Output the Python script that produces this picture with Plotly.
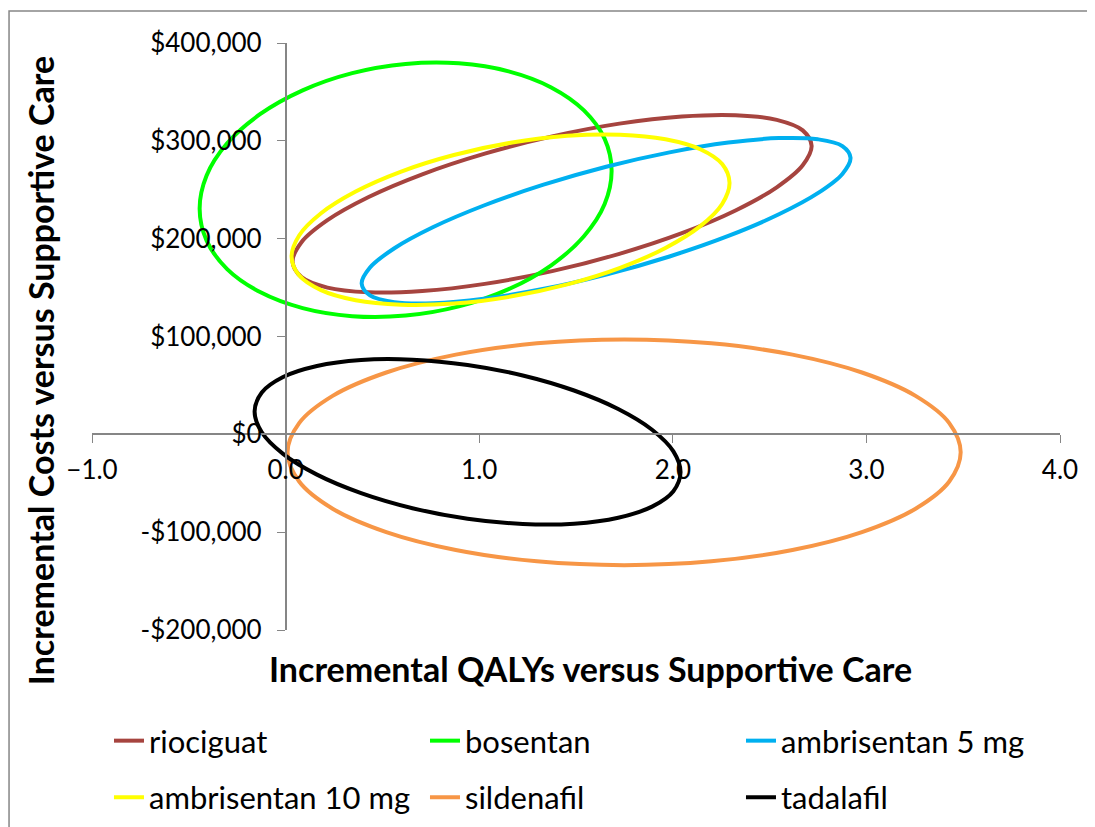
import plotly.graph_objects as go

# ellipse outlines: incremental QALYs (x) and incremental costs (y)
riociguat_x = [2.717, 2.671, 2.537, 2.324, 2.047, 1.724, 1.377, 1.029, 0.706, 0.429, 0.216, 0.082,
               0.036, 0.082, 0.216, 0.429, 0.706, 1.029, 1.377, 1.724, 2.047, 2.324, 2.537, 2.671]
riociguat_y = [294900, 310700, 321400, 326200, 324900, 317600, 304600, 286900, 265800, 242600,
               218900, 196400, 176500, 160700, 150000, 145200, 146500, 153800, 166800, 184500,
               205600, 228800, 252500, 275000]

bosentan_x = [1.684, 1.648, 1.541, 1.372, 1.152, 0.895, 0.620, 0.344, 0.088, -0.132, -0.302, -0.408,
              -0.444, -0.408, -0.302, -0.132, 0.088, 0.344, 0.620, 0.895, 1.152, 1.372, 1.541, 1.648]
bosentan_y = [269400, 302000, 331100, 354600, 371000, 379200, 378600, 369200, 351600, 327200,
              297500, 264600, 230600, 198000, 168900, 145400, 129000, 120800, 121400, 130800,
              148400, 172800, 202500, 235400]

ambri5_x = [2.918, 2.876, 2.749, 2.548, 2.287, 1.983, 1.656, 1.328, 1.024, 0.763, 0.562, 0.436,
            0.393, 0.436, 0.562, 0.763, 1.024, 1.328, 1.656, 1.983, 2.287, 2.548, 2.749, 2.876]
ambri5_y = [282700, 294700, 301600, 302800, 298200, 288200, 273500, 254900, 233900, 211900,
            190200, 170500, 154100, 142000, 135100, 134000, 138500, 148500, 163300, 181800,
            202800, 224900, 246500, 266200]

ambri10_x = [2.293, 2.255, 2.142, 1.962, 1.728, 1.455, 1.162, 0.869, 0.597, 0.362, 0.183, 0.070,
             0.031, 0.070, 0.183, 0.362, 0.597, 0.869, 1.162, 1.455, 1.728, 1.962, 2.142, 2.255]
ambri10_y = [257100, 276200, 291400, 301600, 306300, 305100, 298000, 285500, 268600, 248200,
             226000, 203300, 181600, 162600, 147400, 137100, 132500, 133700, 140800, 153300,
             170200, 190500, 212800, 235500]

sildenafil_x = [3.487, 3.428, 3.254, 2.977, 2.618, 2.199, 1.749, 1.298, 0.879, 0.520, 0.243, 0.070,
                0.010, 0.070, 0.243, 0.520, 0.879, 1.298, 1.749, 2.199, 2.618, 2.977, 3.254, 3.428]
sildenafil_y = [-18400, 11500, 39300, 63200, 81500, 93000, 96900, 93000, 81500, 63200, 39300, 11500,
                -18400, -48200, -76000, -99900, -118200, -129800, -133700, -129800, -118200,
                -99900, -76000, -48200]

tadalafil_x = [2.040, 2.003, 1.893, 1.718, 1.490, 1.225, 0.940, 0.655, 0.390, 0.162, -0.013, -0.123,
               -0.160, -0.123, -0.013, 0.162, 0.390, 0.655, 0.940, 1.225, 1.490, 1.718, 1.893, 2.003]
tadalafil_y = [-38800, -17400, 4700, 25900, 44800, 60200, 70900, 76300, 76000, 69900, 58600, 42800,
               23500, 2100, -20000, -41200, -60100, -75500, -86200, -91600, -91300, -85200,
               -73900, -58100]

names = ['riociguat', 'bosentan', 'ambrisentan 5 mg', 'ambrisentan 10 mg', 'sildenafil', 'tadalafil']
colors = ['#A6443F', '#00FF00', '#00B0F0', '#FFFF00', '#F79646', '#000000']
xs = [riociguat_x, bosentan_x, ambri5_x, ambri10_x, sildenafil_x, tadalafil_x]
ys = [riociguat_y, bosentan_y, ambri5_y, ambri10_y, sildenafil_y, tadalafil_y]

x_ticks = [-1.0, 0.0, 1.0, 2.0, 3.0, 4.0]
y_ticks = [-200000, -100000, 0, 100000, 200000, 300000, 400000]
y_labels = ['-$200,000', '-$100,000', '$0', '$100,000', '$200,000', '$300,000', '$400,000']

FONT = 'Lato'
AXIS_GREY = '#868686'

fig = go.Figure()
for i, (name, color, x, y) in enumerate(zip(names, colors, xs, ys)):
    fig.add_trace(go.Scatter(x=x + x[:1], y=y + y[:1], mode='lines', name=name,
                             line=dict(color=color, width=4, shape='spline'),
                             legend='legend' if i < 3 else 'legend2'))

legend_style = dict(orientation='h', xanchor='left', yanchor='middle', entrywidth=271,
                    xref='container', yref='container',
                    font=dict(family=FONT, size=31, color='black'), bgcolor='rgba(0,0,0,0)')

fig.update_layout(
    width=1087, height=819,
    margin=dict(l=84, r=35, t=35, b=197),
    paper_bgcolor='white', plot_bgcolor='white',
    font=dict(family=FONT, size=26, color='black'),
    legend=dict(x=0.0929, y=0.105, **legend_style),
    legend2=dict(x=0.0929, y=0.036, **legend_style),
    xaxis=dict(range=[-1, 4], tickvals=x_ticks, tickformat='.1f', showgrid=False, zeroline=False,
               showline=True, linecolor=AXIS_GREY, linewidth=1.5, ticks='outside', ticklen=8,
               tickcolor=AXIS_GREY, ticklabelstandoff=5, anchor='free', position=1 / 3),
    yaxis=dict(range=[-200000, 400000], tickvals=y_ticks, ticktext=y_labels, showgrid=False,
               zeroline=False, showline=True, linecolor=AXIS_GREY, linewidth=1.5, ticks='outside',
               ticklen=8, tickcolor=AXIS_GREY, ticklabelstandoff=10, anchor='free', position=0.2),
    annotations=[
        dict(text='<b>Incremental QALYs versus Supportive Care</b>', xref='paper', yref='paper',
             x=0.5145, y=-0.0664, xanchor='center', yanchor='middle', showarrow=False,
             font=dict(family=FONT, size=34)),
        dict(text='<b>Incremental Costs versus Supportive Care</b>', xref='paper', yref='paper',
             x=-0.0537, y=0.441, xanchor='center', yanchor='middle', textangle=-90,
             showarrow=False, font=dict(family=FONT, size=34)),
    ],
    # chart border, left and top edges visible
    shapes=[dict(type='rect', xref='paper', yref='paper', x0=-0.0857, x1=1.06, y0=-0.5, y1=1.0545,
                 line=dict(color=AXIS_GREY, width=1.5))],
)

fig.write_html('out.html')
